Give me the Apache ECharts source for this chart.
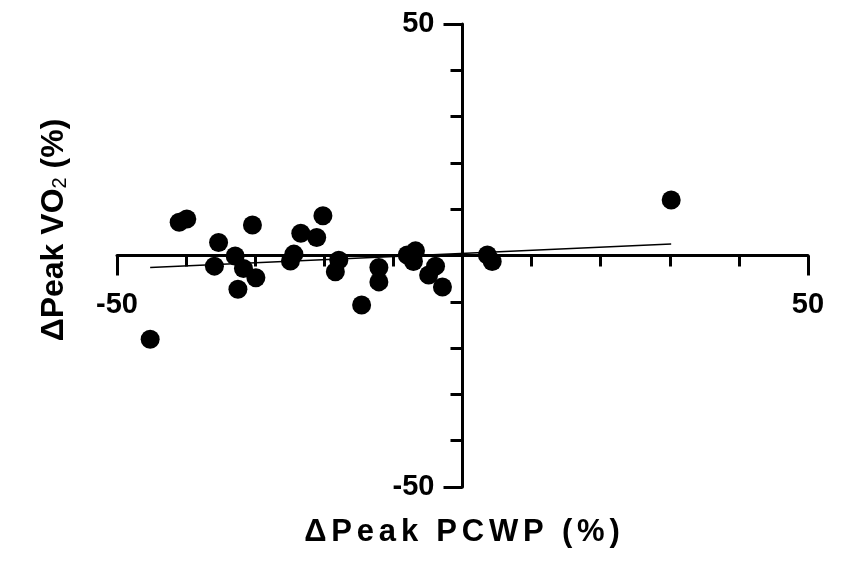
<!DOCTYPE html>
<html>
<head>
<meta charset="utf-8">
<script src="https://cdn.jsdelivr.net/npm/echarts@6/dist/echarts.min.js"></script>
<style>
  html, body { margin: 0; padding: 0; background: #fff; }
  #main { width: 852px; height: 582px; }
</style>
</head>
<body>
<div id="main"></div>
<script>
// ΔPeak PCWP (%) vs ΔPeak VO2 (%)
const pcwpChange = [-41.0, -39.9, -35.3, -35.9, -32.9, -31.7, -29.9, -32.5, -30.4, -23.4,
  -21.1, -20.2, -24.4, -24.9, -17.9, -18.4, -12.1, -12.1, -14.6, -8.0,
  -6.8, -7.1, -3.9, -4.9, -2.9, 3.6, 4.3, 30.2, -45.2];
const vo2Change = [7.2, 7.9, 2.8, -2.3, -0.1, -2.8, -4.8, -7.3, 6.6, 4.8,
  3.9, 8.6, 0.3, -1.2, -1.0, -3.5, -2.6, -5.7, -10.7, 0.1,
  1.0, -1.3, -2.3, -4.2, -6.8, 0.1, -1.3, 12.0, -18.1];
// regression line end points
const fitX = [-45.2, 30.2];
const fitY = [-2.6, 2.5];
const axisTicks = [-50, 50];
const xTitle = "ΔPeak PCWP (%)";

let myChart = echarts.init(document.getElementById("main"));

const font = "'Liberation Sans', Arial, sans-serif";
const lblStyle = { fontFamily: font, fontWeight: "bold", fontSize: 29, color: "#000" };

// spread the letters of the x title a little, like the original
const spaced = xTitle.split("").map(c => "{c|" + c + "}").join("");

myChart.setOption({
  animation: false,
  grid: { left: 117, right: 44, top: 24, bottom: 95, containLabel: false },
  xAxis: [
    {
      type: "value", min: axisTicks[0], max: axisTicks[1], interval: 10,
      axisLine: { onZero: true, lineStyle: { color: "#000", width: 3 } },
      axisTick: { length: 11, lineStyle: { color: "#000", width: 3 } },
      axisLabel: { show: false },
      splitLine: { show: false },
    },
    {
      // long end ticks + labels, moved up onto the zero line
      type: "value", min: axisTicks[0], max: axisTicks[1], interval: 100,
      position: "bottom", offset: -231.5,
      axisLine: { show: false, onZero: false },
      axisTick: { length: 20, lineStyle: { color: "#000", width: 3 } },
      axisLabel: Object.assign({ margin: 35 }, lblStyle),
      splitLine: { show: false },
    },
  ],
  yAxis: [
    {
      type: "value", min: axisTicks[0], max: axisTicks[1], interval: 10,
      axisLine: { onZero: true, lineStyle: { color: "#000", width: 3 } },
      axisTick: { length: 12, lineStyle: { color: "#000", width: 3 } },
      axisLabel: { show: false },
      splitLine: { show: false },
    },
    {
      type: "value", min: axisTicks[0], max: axisTicks[1], interval: 100,
      position: "left", offset: -345.5,
      axisLine: { show: false, onZero: false },
      axisTick: { length: 19, lineStyle: { color: "#000", width: 3 } },
      axisLabel: Object.assign({ margin: 28 }, lblStyle),
      splitLine: { show: false },
    },
  ],
  graphic: [
    {
      type: "text", x: 462, y: 532,
      style: {
        text: spaced, align: "center", verticalAlign: "middle",
        rich: {
          c: { fontFamily: font, fontWeight: "bold", fontSize: 31, fill: "#000", padding: [0, 2.4] },
        },
      },
    },
    {
      type: "text", x: 53, y: 230, rotation: Math.PI / 2,
      style: {
        text: "{a|ΔPeak VO}{s|2}{a| (%)}",
        align: "center", verticalAlign: "middle",
        rich: {
          a: { fontFamily: font, fontWeight: "bold", fontSize: 32, fill: "#000", verticalAlign: "bottom", lineHeight: 34 },
          s: { fontFamily: font, fontWeight: "normal", fontSize: 20, fill: "#000", verticalAlign: "bottom", lineHeight: 30 },
        },
      },
    },
  ],
  series: [
    {
      type: "scatter", xAxisIndex: 0, yAxisIndex: 0,
      symbolSize: 19,
      itemStyle: { color: "#000", opacity: 1 },
      data: pcwpChange.map((x, i) => [x, vo2Change[i]]),
      z: 3,
    },
    {
      type: "line", xAxisIndex: 0, yAxisIndex: 0,
      symbol: "none",
      lineStyle: { color: "#000", width: 1.5 },
      data: fitX.map((x, i) => [x, fitY[i]]),
      z: 4,
    },
  ],
});
</script>
</body>
</html>
